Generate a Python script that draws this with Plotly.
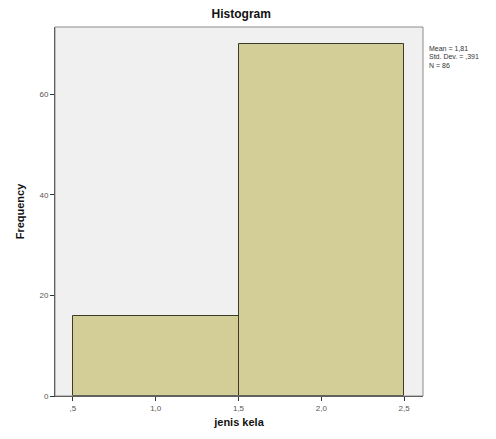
import plotly.graph_objects as go

bin_edges = [0.5, 1.5, 2.5]
counts = [16, 70]
x_tick_vals = [0.5, 1.0, 1.5, 2.0, 2.5]
x_tick_text = [",5", "1,0", "1,5", "2,0", "2,5"]
y_tick_vals = [0, 20, 40, 60]
stats_lines = ["Mean = 1,81", "Std. Dev. = ,391", "N = 86"]

centers = [(bin_edges[i] + bin_edges[i + 1]) / 2 for i in range(len(counts))]
widths = [bin_edges[i + 1] - bin_edges[i] for i in range(len(counts))]

fig = go.Figure(go.Bar(
    x=centers, y=counts, width=widths,
    marker=dict(color="#d3ce97", line=dict(color="#3c3c28", width=1)),
    hoverinfo="skip",
))

stat_ys = [0.943, 0.919, 0.895]
annotations = [dict(text=t, xref="paper", yref="paper", x=1.012, y=yy,
                    xanchor="left", yanchor="middle", align="left", showarrow=False,
                    font=dict(size=7, color="#333"))
               for t, yy in zip(stats_lines, stat_ys)]

fig.update_layout(
    width=488, height=431,
    margin=dict(l=44, r=73, t=19, b=43),
    paper_bgcolor="white",
    plot_bgcolor="#f0f0f0",
    font=dict(family="Liberation Sans, Arial, sans-serif", color="#222"),
    showlegend=False,
    bargap=0,
    title=dict(text="<b>Histogram</b>", x=0.478, xanchor="center", y=0.986, yanchor="middle",
               font=dict(size=12, color="#111")),
    annotations=annotations,
    shapes=[dict(type="rect", xref="paper", yref="paper", x0=0, y0=0, x1=1, y1=1,
                 line=dict(color="#8c8c8c", width=1), layer="above")],
)

fig.update_xaxes(
    range=[0.392, 2.614], tickvals=x_tick_vals, ticktext=x_tick_text,
    ticks="outside", ticklen=4, tickcolor="#333", showgrid=False, zeroline=False,
    showline=True, linecolor="#333", linewidth=1,
    tickfont=dict(size=8, color="#555"),
    title=dict(text="<b>jenis kela</b>", font=dict(size=11, color="#111"), standoff=6),
)
fig.update_yaxes(
    range=[0, 73.4], tickvals=y_tick_vals,
    ticks="outside", ticklen=4, tickcolor="#333", showgrid=False, zeroline=False,
    showline=True, linecolor="#333", linewidth=1,
    tickfont=dict(size=8, color="#555"),
    title=dict(text="<b>Frequency</b>", font=dict(size=11, color="#111"), standoff=12),
)

fig.write_html("out.html")
